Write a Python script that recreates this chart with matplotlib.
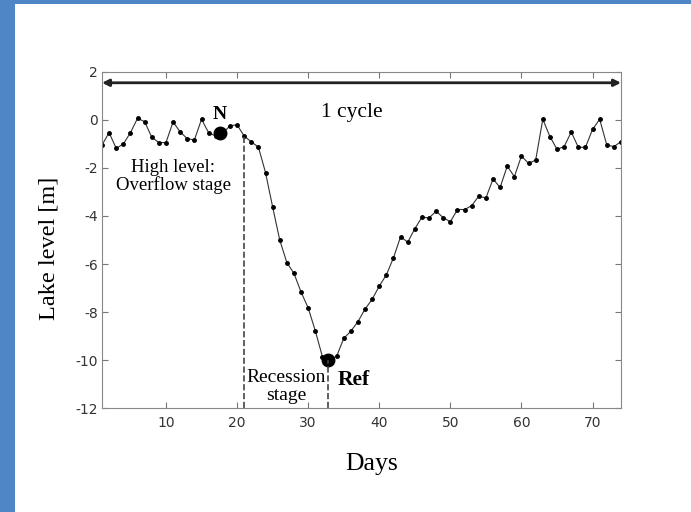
import matplotlib.pyplot as plt
from matplotlib.patches import Rectangle

plt.rcParams['axes.unicode_minus'] = False

days = list(range(1, 75))
level = [-1.04, -0.53, -1.18, -1.00, -0.53, 0.07, -0.07, -0.72, -0.94, -0.94,
         -0.08, -0.50, -0.78, -0.83, 0.03, -0.53, -0.67, -0.55, -0.24, -0.20,
         -0.67, -0.91, -1.13, -2.19, -3.62, -5.00, -5.94, -6.39, -7.17, -7.83,
         -8.78, -9.86, -10.00, -9.85, -9.10, -8.80, -8.40, -7.88, -7.47, -6.92,
         -6.45, -5.74, -4.86, -5.09, -4.53, -4.05, -4.08, -3.80, -4.07, -4.24,
         -3.73, -3.73, -3.57, -3.17, -3.25, -2.46, -2.81, -1.92, -2.36, -1.50,
         -1.81, -1.67, 0.03, -0.69, -1.22, -1.11, -0.50, -1.14, -1.14, -0.39,
         0.03, -1.04, -1.11, -0.90]

n_day, n_level = 17.6, -0.55
ref_day, ref_level = 32.8, -10.0
overflow_end = 21
cycle_level = 1.55

serif = "Liberation Serif"

fig = plt.figure(figsize=(6.91, 5.12), dpi=100, facecolor="#4f86c6")
fig.patches.append(Rectangle((15 / 691, 0), 1, 1 - 4 / 512, transform=fig.transFigure,
                             facecolor="white", edgecolor="none", zorder=-1))
ax = fig.add_axes([0.1476, 0.2031, 0.7511, 0.6563])
ax.set_zorder(2)

ax.plot(days, level, "-", color="#333333", lw=0.8)
ax.plot(days, level, ".", color="black", markersize=5)
ax.plot(n_day, n_level, "o", color="black", markersize=9)
ax.plot(ref_day, ref_level, "o", color="black", markersize=9)

# stage boundaries
ax.plot([overflow_end, overflow_end], [-12, level[overflow_end - 1]], "--", color="#444444", lw=1.2)
ax.plot([ref_day, ref_day], [-12, ref_level], "--", color="#444444", lw=1.2)

ax.annotate("", xy=(1, cycle_level), xytext=(74, cycle_level),
            arrowprops=dict(arrowstyle="<|-|>", color="#222222", lw=2, mutation_scale=10,
                            shrinkA=0, shrinkB=0))

ax.text(36.1, 0.3, "1 cycle", family=serif, fontsize=15.5, ha="center", va="center")
ax.text(n_day, 0.22, "N", family=serif, fontsize=14, weight="bold", ha="center", va="center")
ax.text(11, -2.36, "High level:\nOverflow stage", family=serif, fontsize=13.5,
        ha="center", va="center", linespacing=1.05)
ax.text(26.9, -11.1, "Recession\nstage", family=serif, fontsize=14,
        ha="center", va="center", linespacing=1.1)
ax.text(36.4, -10.85, "Ref", family=serif, fontsize=15.5, weight="bold", ha="center", va="center")

ax.set_xlim(1, 74)
ax.set_ylim(-12, 2)
ax.set_xticks(range(10, 71, 10))
ax.set_yticks(range(-12, 3, 2))
ax.tick_params(direction="in", top=True, right=True, length=4, labelsize=10,
               colors="#777777", labelcolor="#333333")
ax.tick_params(axis="x", pad=6)
ax.tick_params(axis="y", pad=3)
for s in ax.spines.values():
    s.set_color("#888888")
    s.set_linewidth(0.8)

ax.set_xlabel("Days", family=serif, fontsize=18.5)
ax.set_ylabel("Lake level [m]", family=serif, fontsize=17.5)
ax.xaxis.set_label_coords(0.52, -0.135)
ax.yaxis.set_label_coords(-0.082, 0.475)

fig.savefig("out.png", dpi=100, facecolor=fig.get_facecolor())
